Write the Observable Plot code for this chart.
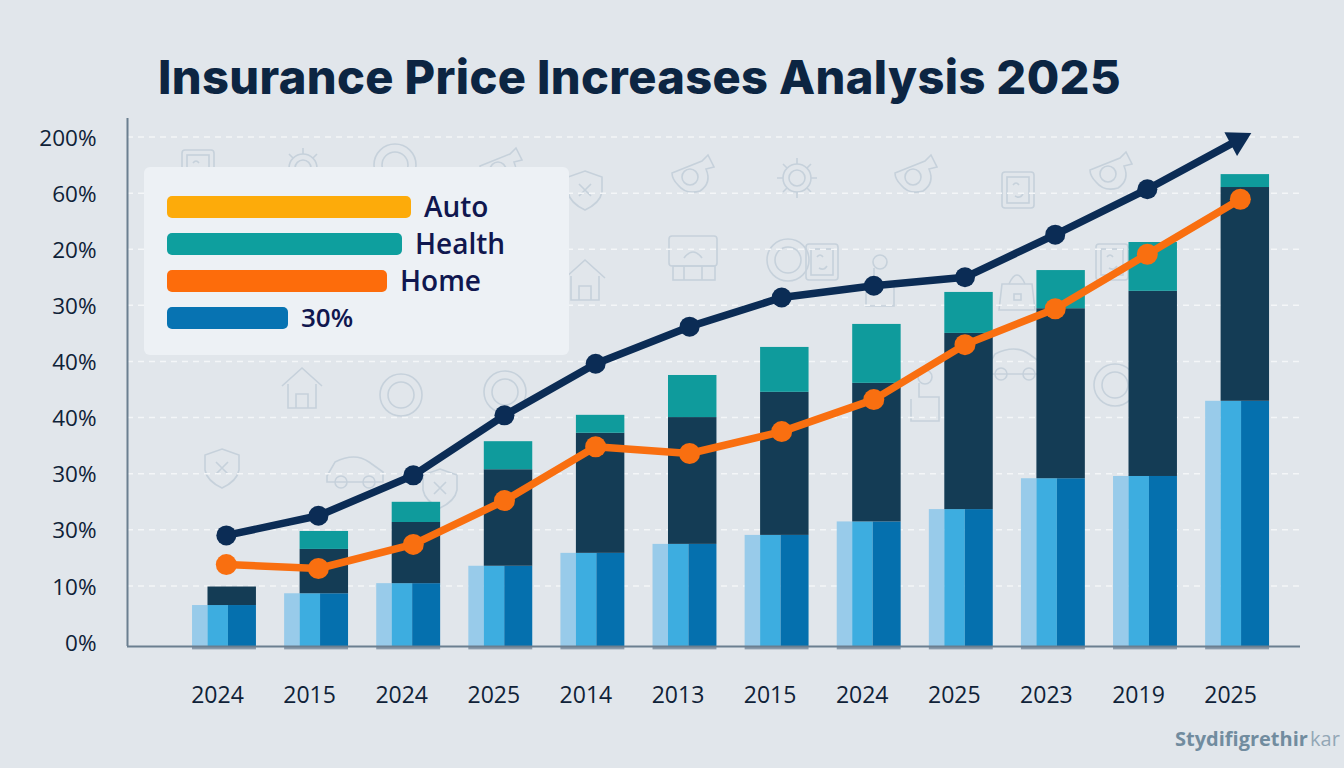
<!DOCTYPE html>
<html>
<head>
<meta charset="utf-8">
<script src="https://cdn.jsdelivr.net/npm/d3@7"></script>
<script src="https://cdn.jsdelivr.net/npm/@observablehq/plot@0.6"></script>
<style>
  html, body { margin: 0; padding: 0; width: 1344px; height: 768px; overflow: hidden; background: #e1e6eb; }
  body { position: relative; font-family: "Open Sans", sans-serif; }
  #title { height: 110px; box-sizing: border-box; padding: 47px 0 0 158px; font: 800 47px/60px "Inter", sans-serif; color: #0c2542; white-space: nowrap; letter-spacing: 0.36px; position: relative; z-index: 3; }
  #chart { position: relative; z-index: 1; height: 658px; }
  #icons { position: absolute; left: 0; top: 0; z-index: 0; }
  #legend { position: absolute; left: 144px; top: 167px; width: 425px; height: 188px; background: #edf1f5; border-radius: 6px; z-index: 2; }
  .row { position: absolute; left: 23px; height: 22px; display: flex; align-items: center; }
  .swatch { height: 22px; border-radius: 5px; }
  .lab { font-weight: 600; color: #10174f; margin-left: 13px; line-height: 20px; position: relative; top: -1px; }
  #mark { position: absolute; left: 1175px; top: 727px; font: 700 20px/24px "Open Sans", sans-serif; color: #718c9f; white-space: nowrap; word-spacing: -3px; z-index: 2; }
  #mark span { font-weight: 400; color: #93a7b6; }
</style>
</head>
<body>
<svg id="icons" width="1344" height="768" fill="none" stroke="#c6d1db" stroke-width="1.6"></svg>
<div id="title">Insurance Price Increases Analysis 2025</div>
<div id="chart"></div>
<div id="legend"></div>
<div id="mark">Stydifigrethir <span>kar</span></div>
<script>
const years = ["2024","2015","2024","2025","2014","2013","2015","2024","2025","2023","2019","2025"];
const yLabels = ["0%","10%","30%","30%","40%","40%","30%","20%","60%","200%"];

const blueTop = [0.65,0.86,1.04,1.35,1.58,1.74,1.90,2.14,2.36,2.91,2.95,4.29];
const navyTop = [0.98,1.65,2.13,3.07,3.72,4.00,4.45,4.61,5.50,5.94,6.25,8.10];
const tealTop = [0.98,1.97,2.49,3.57,4.04,4.75,5.25,5.66,6.23,6.62,7.12,8.33];

const trendNavy   = [1.90,2.25,2.97,4.04,4.96,5.62,6.14,6.35,6.50,7.26,8.07,8.94];
const trendOrange = [1.38,1.31,1.74,2.52,3.48,3.36,3.75,4.32,5.30,5.94,6.91,7.89];
const trendX = [0.02,1.02,2.05,3.04,4.03,5.05,6.05,7.05,8.04,9.02,10.02,11.03];
const arrowX = 11.0;

const legendItems = ["Auto","Health","Home","30%"];

const idx = d3.range(years.length);
const base = -0.08;
const bars = idx.map(i => ({i, blue: blueTop[i], navy: navyTop[i], teal: tealTop[i]}));
const navyPts = idx.map(i => ({x: i === 11 ? arrowX : trendX[i], y: trendNavy[i]}));
const orangePts = idx.map(i => ({x: trendX[i], y: trendOrange[i]}));
const at = off => d => d.i + off;

const plot = Plot.plot({
  width: 1344, height: 658,
  marginLeft: 127, marginRight: 44, marginTop: 8, marginBottom: 122,
  style: {background: "transparent", fontFamily: '"Open Sans", sans-serif'},
  x: {domain: [-1.053, 11.683]},
  y: {domain: [base, 9.33]},
  marks: [
    Plot.ruleY(d3.range(1, yLabels.length), {stroke: "#f4f6f8", strokeWidth: 1.5, strokeDasharray: "6 5"}),
    Plot.rect(bars, {x1: at(-0.347), x2: at(0.347), y1: -0.14, y2: base, fill: "#8a9aaa"}),
    Plot.rect(bars, {x1: at(-0.347), x2: at(-0.179), y1: base, y2: "blue", fill: "#98cbea"}),
    Plot.rect(bars, {x1: at(-0.179), x2: at(0.043), y1: base, y2: "blue", fill: "#3dade0"}),
    Plot.rect(bars, {x1: at(0.043), x2: at(0.347), y1: base, y2: "blue", fill: "#0570ae"}),
    Plot.rect(bars, {x1: at(-0.179), x2: at(0.347), y1: "blue", y2: "navy", fill: "#143c55"}),
    Plot.rect(bars.filter(d => d.teal > d.navy), {x1: at(-0.179), x2: at(0.347), y1: "navy", y2: "teal", fill: "#0f9b9c"}),
    Plot.ruleY([base], {stroke: "#6b7f90", strokeWidth: 2}),
    Plot.ruleX([-1.053], {stroke: "#6b7f90", strokeWidth: 2}),
    Plot.line(navyPts, {x: "x", y: "y", stroke: "#0b2c55", strokeWidth: 7.5, curve: "linear"}),
    Plot.dot(navyPts.slice(0, 11), {x: "x", y: "y", r: 10, fill: "#0b2c55"}),
    Plot.dot(navyPts.slice(11), {x: "x", y: "y", symbol: "triangle", r: 10, rotate: 62, fill: "#0b2c55"}),
    Plot.line(orangePts, {x: "x", y: "y", stroke: "#f96f10", strokeWidth: 7.5, curve: "linear"}),
    Plot.dot(orangePts, {x: "x", y: "y", r: 10.5, fill: "#f96f10"}),
    Plot.axisY(d3.range(yLabels.length), {tickSize: 0, tickPadding: 31, tickFormat: i => yLabels[i], fontSize: 22.5, dy: 1.5, color: "#0f2238", label: null}),
    Plot.axisX(idx, {tickSize: 0, tickPadding: 40, tickFormat: i => years[i], fontSize: 23, dx: -7, color: "#0f2238", label: null})
  ]
});
document.getElementById("chart").appendChild(plot);

// legend
const swatchColors = ["#fdab0a","#0e9f9e","#fd6c0b","#0773b2"];
const swatchWidths = [244,235,220,121];
const legend = d3.select("#legend");
legendItems.forEach((t, i) => {
  const row = legend.append("div").attr("class","row").style("top", (28.5 + i*37) + "px");
  row.append("div").attr("class","swatch").style("width", swatchWidths[i]+"px").style("background", swatchColors[i]);
  row.append("div").attr("class","lab").text(t).style("font-size", i === 3 ? "26px" : "28px");
});

// faint decorative background icons
const glyphs = {
  face: '<rect x="-16" y="-18" width="32" height="36" rx="3"/><rect x="-11" y="-13" width="22" height="26"/><path d="M-5-5q3-4 6 0M-3 6q5 3 8-2"/>',
  shield: '<path d="M0-19 17-13V2Q15 13 0 20-15 13-17 2V-13Z"/><path d="M-6-6 6 6M6-6-6 6"/>',
  gear: '<circle r="8"/><circle r="14"/><path d="M0-20V-14M0 14V20M-20 0H-14M14 0H20M-14-14-10-10M10 10 14 14M14-14 10-10M-10 10-14 14"/>',
  horn: '<path d="M-20-2 10-14 16-20 22-8 14-6Q20 8 8 16-6 20-14 10-20 4-20-2Z"/><circle cx="-2" cy="2" r="8"/>',
  ring: '<circle r="21"/><circle r="13"/>',
  screen: '<rect x="-24" y="-22" width="48" height="30" rx="3"/><rect x="-20" y="8" width="42" height="14"/><path d="M-9 0Q0-12 9 0M-9 8V22M9 8V22"/>',
  house: '<path d="M-20-2 0-20 20-2M-14-4V20H14V-4"/><path d="M-6 20V6H6V20"/>',
  bag: '<path d="M-15-6H15L18 20H-18Z"/><path d="M-8-6Q0-24 8-6"/><rect x="-3" y="4" width="7" height="6"/>',
  hand: '<circle cy="-18" r="7"/><path d="M-6-12V2H14V26H-14V4"/>',
  car: '<path d="M-28 6-20-8Q0-18 14-8L28 2V12H-28Z"/><circle cx="-14" cy="12" r="6"/><circle cx="14" cy="12" r="6"/>'
};
const iconPlaces = [
  ["face",198,168],["gear",303,168],["ring",395,165],["horn",500,168],
  ["shield",585,190],["horn",692,175],["gear",797,178],["horn",915,175],["face",1018,190],["horn",1110,172],
  ["house",585,280],["screen",693,258],["ring",788,260],["face",822,262],["hand",880,280],["bag",1017,290],["face",1112,262],
  ["house",302,388],["ring",401,395],["ring",505,392],["hand",925,395],["car",1015,362],["ring",1115,385],
  ["shield",222,468],["car",355,470],["shield",440,488]
];
d3.select("#icons").selectAll("g").data(iconPlaces).join("g")
  .attr("transform", d => `translate(${d[1]},${d[2]})`)
  .html(d => glyphs[d[0]]);
</script>
</body>
</html>
